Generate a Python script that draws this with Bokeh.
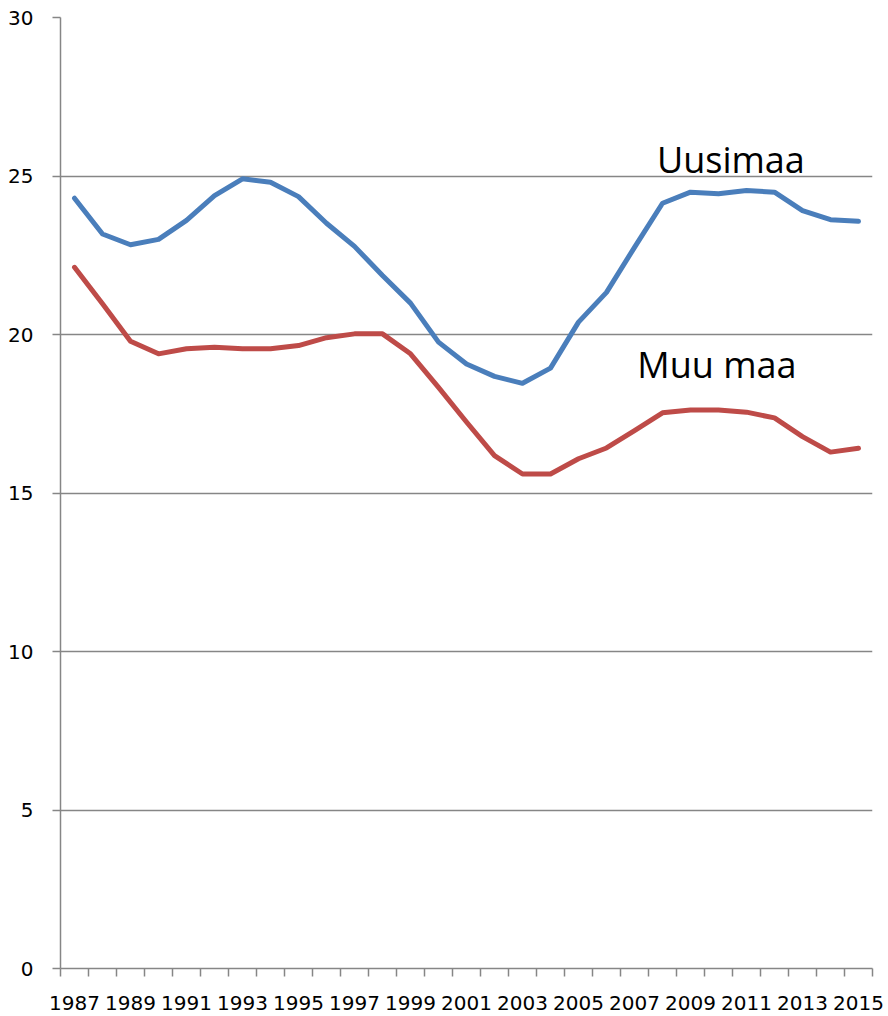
from bokeh.plotting import figure
from bokeh.models import FixedTicker, Label, Range1d
from bokeh.embed import file_html
from bokeh.resources import INLINE

years = list(range(1987, 2016))
uusimaa = [24.3, 23.17, 22.83, 23.0, 23.6, 24.38, 24.91, 24.8, 24.35, 23.51,
           22.78, 21.86, 20.99, 19.76, 19.07, 18.68, 18.46, 18.94, 20.39, 21.33,
           22.75, 24.14, 24.49, 24.44, 24.54, 24.49, 23.91, 23.62, 23.57]
muu_maa = [22.12, 20.97, 19.79, 19.39, 19.55, 19.6, 19.55, 19.55, 19.65, 19.9,
           20.02, 20.02, 19.39, 18.33, 17.24, 16.18, 15.6, 15.6, 16.08, 16.42,
           16.97, 17.53, 17.62, 17.62, 17.55, 17.37, 16.78, 16.29, 16.41]
y_ticks = [0, 5, 10, 15, 20, 25, 30]
label_years = years[::2]
series_names = ["Uusimaa", "Muu maa"]

GRID = "#868686"
TICK_FONT = "DejaVu Sans"
FONT = "Open Sans"

p = figure(frame_width=812, frame_height=951,
           min_border_left=60, min_border_right=16, min_border_top=17, min_border_bottom=48,
           x_range=Range1d(years[0] - 0.5, years[-1] + 0.5),
           y_range=Range1d(0, 30),
           output_backend="svg", toolbar_location=None)
p.outline_line_color = None
p.background_fill_color = "white"
p.border_fill_color = "white"

# x axis
p.xaxis.ticker = FixedTicker(ticks=label_years,
                             minor_ticks=[y - 0.5 for y in years] + [years[-1] + 0.5])
p.xaxis.major_tick_out = 0
p.xaxis.major_tick_in = 0
p.xaxis.minor_tick_out = 8
p.xaxis.minor_tick_in = 0
p.xaxis.minor_tick_line_color = GRID
p.xaxis.minor_tick_line_width = 1.5
p.xaxis.axis_line_color = GRID
p.xaxis.axis_line_width = 1.5
p.xaxis.major_label_text_font = TICK_FONT
p.xaxis.major_label_text_font_size = "20px"
p.xaxis.major_label_text_color = "black"
p.xaxis.major_label_standoff = 19
p.xaxis.major_label_overrides = {y: str(y) for y in label_years}

# y axis
p.yaxis.ticker = FixedTicker(ticks=y_ticks, minor_ticks=[])
p.yaxis.major_tick_out = 8
p.yaxis.major_tick_in = 0
p.yaxis.major_tick_line_color = GRID
p.yaxis.major_tick_line_width = 1.5
p.yaxis.axis_line_color = GRID
p.yaxis.axis_line_width = 1.5
p.yaxis.major_label_text_font = TICK_FONT
p.yaxis.major_label_text_font_size = "20px"
p.yaxis.major_label_text_color = "black"
p.yaxis.major_label_standoff = 19

p.xgrid.visible = False
p.ygrid.grid_line_color = GRID
p.ygrid.grid_line_width = 1.5

p.line(years, uusimaa, line_color="#4A7EBB", line_width=5, line_join="round", line_cap="round")
p.line(years, muu_maa, line_color="#BE4B48", line_width=5, line_join="round", line_cap="round")

p.add_layout(Label(x=2007.8, y=25.53, text=series_names[0], text_font=FONT,
                   text_font_size="36px", text_color="black", text_baseline="alphabetic"))
p.add_layout(Label(x=2007.1, y=19.06, text=series_names[1], text_font=FONT,
                   text_font_size="36px", text_color="black", text_baseline="alphabetic"))

open("out.html", "w").write(file_html(p, INLINE))
